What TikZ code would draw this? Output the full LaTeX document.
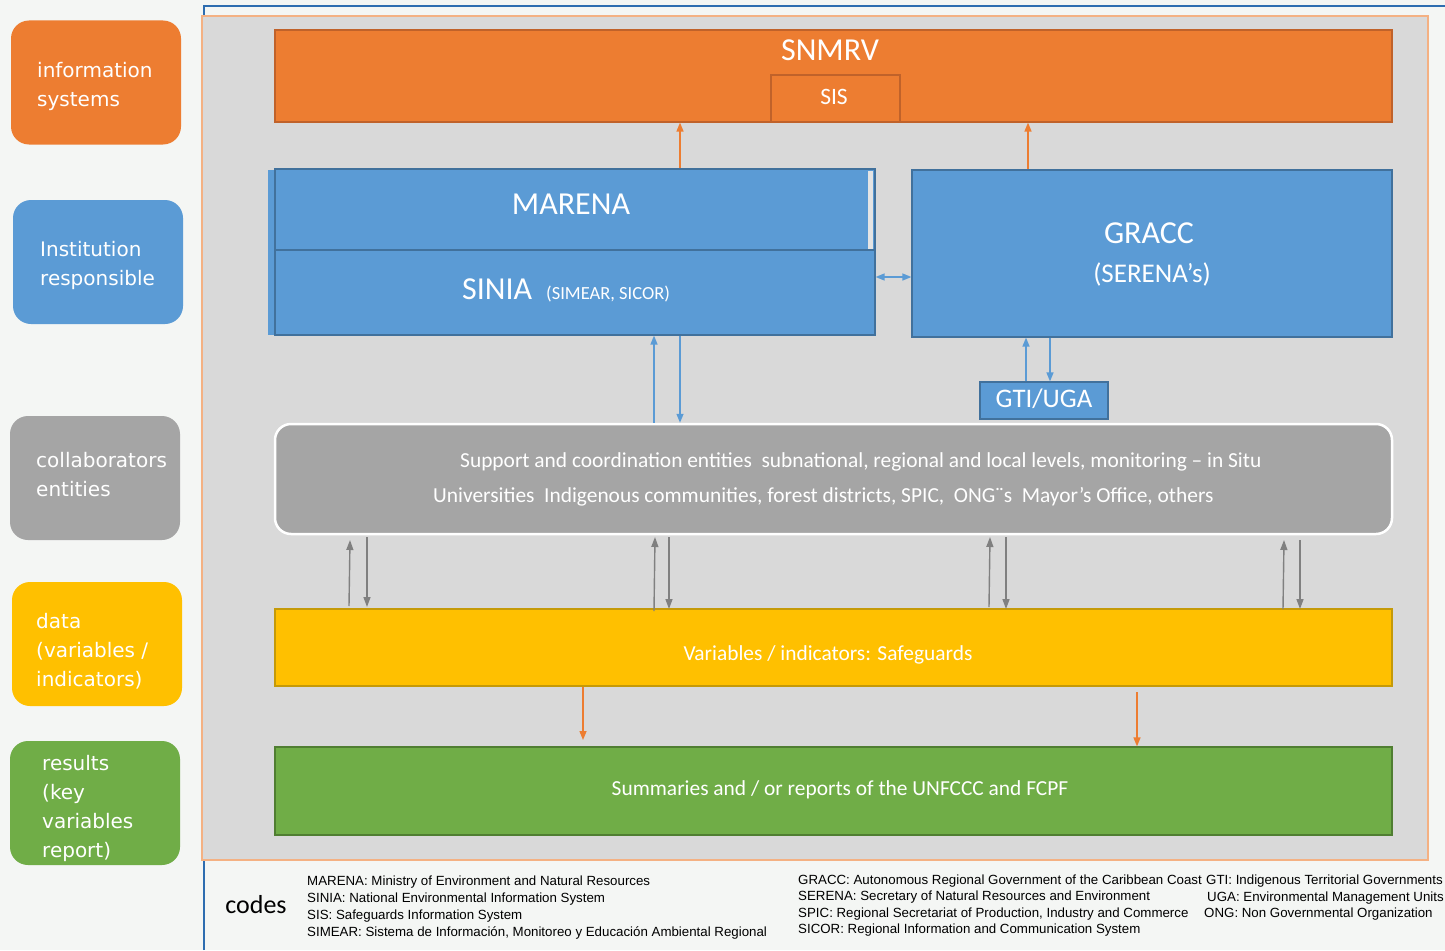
\documentclass[tikz,border=0pt]{standalone}
\usepackage{fontspec}
\setmainfont{Carlito}
\newfontfamily\legfont{DejaVu Sans}
\newfontfamily\codefont{Liberation Sans}
\usetikzlibrary{arrows.meta}
\definecolor{orF}{HTML}{ED7D31}
\definecolor{orD}{HTML}{C0622A}
\definecolor{orL}{HTML}{F4B183}
\definecolor{blF}{HTML}{5B9BD5}
\definecolor{blD}{HTML}{41719C}
\definecolor{frm}{HTML}{2E6DB0}
\definecolor{grF}{HTML}{A5A5A5}
\definecolor{grA}{HTML}{808080}
\definecolor{pan}{HTML}{D9D9D9}
\definecolor{yeF}{HTML}{FFC000}
\definecolor{yeD}{HTML}{C59A08}
\definecolor{gnF}{HTML}{70AD47}
\definecolor{gnD}{HTML}{507E32}
\definecolor{bgc}{HTML}{F4F6F4}
\definecolor{stripc}{HTML}{E4E4E4}
\begin{document}
\begin{tikzpicture}[x=1pt,y=-1pt,
  boxo/.style={draw=orD,fill=orF,line width=1.2pt,inner sep=0pt},
  boxb/.style={draw=blD,fill=blF,line width=1.2pt,inner sep=0pt},
  boxy/.style={draw=yeD,fill=yeF,line width=1.2pt,inner sep=0pt},
  boxg/.style={draw=gnD,fill=gnF,line width=1.2pt,inner sep=0pt},
  boxgr/.style={draw=white,fill=grF,line width=2.5pt,rounded corners=16pt,inner sep=0pt},
  leg/.style={rounded corners=18pt,inner sep=0pt,minimum width=170pt,minimum height=124pt},
  legtxt/.style={anchor=north west,text=white,font=\legfont\fontsize{20}{29}\selectfont,align=left,inner sep=0pt},
  wt/.style={text=white,inner sep=0pt},
  barr/.style={draw=blF,line width=1.4pt,-{Triangle[length=9pt,width=7pt]}},
  oarr/.style={draw=orF,line width=1.4pt,-{Triangle[length=9pt,width=7pt]}},
  garr/.style={draw=grA,line width=1.4pt,-{Triangle[length=10pt,width=7pt]}},
  codetxt/.style={anchor=west,inner sep=0pt,font=\codefont\fontsize{13.3}{15}\selectfont}
]
\useasboundingbox (0,0) rectangle (1445,950);
\fill[bgc] (0,0) rectangle (1445,950);
% outer frame
\draw[frm,line width=1.2pt] (204,950) -- (204,6) -- (1445,6);
% panel
\node[draw=orL,fill=pan,line width=1.2pt,inner sep=0pt,minimum width=1226pt,minimum height=844pt] (panel) at (815,438) {};
% legend
\node[leg,fill=orF] (l1) at (96,82.5) {};
\node[legtxt] (l1t) at (37,62) {information\\systems};
\node[leg,fill=blF] (l2) at (98,262) {};
\node[legtxt] (l2t) at (40,241) {Institution\\responsible};
\node[leg,fill=grF] (l3) at (95,478) {};
\node[legtxt] (l3t) at (36,452) {collaborators\\entities};
\node[leg,fill=yeF] (l4) at (97,644) {};
\node[legtxt] (l4t) at (36,613) {data\\(variables /\\indicators)};
\node[leg,fill=gnF] (l5) at (95,803) {};
\node[legtxt] (l5t) at (42,755) {results\\(key\\variables\\report)};
% SNMRV
\node[boxo,minimum width=1117pt,minimum height=92pt] (snmrv) at (833.5,76) {};
\node[wt,font=\fontsize{32}{36}\selectfont] (snmrvt) at (830,50) {SNMRV};
\node[boxo,minimum width=129pt,minimum height=47pt] (sis) at (835.5,98.5) {};
\node[wt,font=\fontsize{23.5}{26}\selectfont] (sist) at (834,96.5) {SIS};
% MARENA / SINIA
\fill[blF] (268,170) rectangle (276,335);
\node[boxb,minimum width=600pt,minimum height=166pt] (marena) at (575,252) {};
\draw[blD,line width=1.2pt] (275,250) -- (875,250);
\fill[stripc] (868,171) rectangle (873,249);
\node[wt,font=\fontsize{32}{36}\selectfont] (marenat) at (571,204) {MARENA};
\node[wt,font=\fontsize{32}{36}\selectfont,anchor=base west] (siniat) at (462,299) {SINIA};
\node[wt,font=\fontsize{18.5}{22}\selectfont,anchor=base west] (siniasub) at (546,299) {(SIMEAR, SICOR)};
% GRACC
\node[boxb,minimum width=480pt,minimum height=167pt] (gracc) at (1152,253.5) {};
\node[wt,font=\fontsize{32}{36}\selectfont] (gracct) at (1149,233) {GRACC};
\node[wt,font=\fontsize{27}{30}\selectfont] (serena) at (1152,274) {(SERENA’s)};
% GTI/UGA
\node[boxb,minimum width=128pt,minimum height=37pt] (gti) at (1044,400.5) {};
\node[wt,font=\fontsize{26.8}{30}\selectfont] (gtit) at (1044,399) {GTI/UGA};
% grey box
\node[boxgr,minimum width=1117pt,minimum height=110pt] (coll) at (833.5,479) {};
\node[wt,anchor=base west,font=\fontsize{21.4}{25}\selectfont] (c1) at (460,467) {Support and coordination entities\ \ subnational, regional and local levels, monitoring – in Situ};
\node[wt,anchor=base west,font=\fontsize{21.4}{25}\selectfont] (c2) at (433,502) {Universities\ \ Indigenous communities,\ forest districts, SPIC,\ \ ONG¨s\ \ Mayor's Office, others};
% yellow
\node[boxy,minimum width=1117pt,minimum height=77pt] (vars) at (833.5,647.5) {};
\node[wt,font=\fontsize{21.4}{25}\selectfont] (varst) at (828,655) {Variables / indicators: Safeguards};
% green
\node[boxg,minimum width=1117pt,minimum height=88pt] (summ) at (833.5,791) {};
\node[wt,font=\fontsize{21.4}{25}\selectfont] (summt) at (840,790) {Summaries and / or reports of the UNFCCC and FCPF};
% arrows
\draw[oarr] (marena.north -| 680,0) -- (snmrv.south -| 680,0);
\draw[oarr] (gracc.north -| 1028,0) -- (snmrv.south -| 1028,0);
\draw[barr,{Triangle[length=9pt,width=7pt]}-{Triangle[length=9pt,width=7pt]}] (marena.east |- 0,277) -- (gracc.west |- 0,277);
\draw[barr] (coll.north -| 654,0) -- (marena.south -| 654,0);
\draw[barr] (marena.south -| 680,0) -- (coll.north -| 680,0);
\draw[barr] (gti.north -| 1026,0) -- (gracc.south -| 1026,0);
\draw[barr] (gracc.south -| 1050,0) -- (gti.north -| 1050,0);
\coordinate (u1s) at (349,606); \coordinate (u1e) at (350,540);
\coordinate (d1s) at (367,537); \coordinate (d1e) at (367,607);
\coordinate (u2s) at (654,611); \coordinate (u2e) at (655,537);
\coordinate (d2s) at (669,537); \coordinate (d2e) at (669,609);
\coordinate (u3s) at (989,607); \coordinate (u3e) at (990,537);
\coordinate (d3s) at (1006,537); \coordinate (d3e) at (1006,609);
\coordinate (u4s) at (1283,609); \coordinate (u4e) at (1284,540);
\coordinate (d4s) at (1300,540); \coordinate (d4e) at (1300,609);
\foreach \i in {1,2,3,4}{
  \draw[garr] (u\i s) -- (u\i e);
  \draw[garr] (d\i s) -- (d\i e);
}
\draw[oarr] (vars.south -| 583,0) -- (583,740);
\draw[oarr] (1137,692) -- (summ.north -| 1137,0);
% codes
\node[font=\fontsize{26}{30}\selectfont,inner sep=0pt] (codes) at (256,905) {codes};
\node[codetxt] (k1) at (307,882) {MARENA: Ministry of Environment and Natural Resources};
\node[codetxt] (k2) at (307,899) {SINIA: National Environmental Information System};
\node[codetxt] (k3) at (307,916) {SIS: Safeguards Information System};
\node[codetxt] (k4) at (307,933) {SIMEAR: Sistema de Información, Monitoreo y Educación Ambiental Regional};
\node[codetxt] (k5) at (798,881) {GRACC: Autonomous Regional Government of the Caribbean Coast};
\node[codetxt] (k6) at (798,897) {SERENA: Secretary of Natural Resources and Environment};
\node[codetxt] (k7) at (798,914) {SPIC: Regional Secretariat of Production, Industry and Commerce};
\node[codetxt] (k8) at (798,930) {SICOR: Regional Information and Communication System};
\node[codetxt] (k9) at (1206,881) {GTI: Indigenous Territorial Governments};
\node[codetxt] (k10) at (1207,898) {UGA: Environmental Management Units};
\node[codetxt] (k11) at (1204,914) {ONG: Non Governmental Organization};
\end{tikzpicture}
\end{document}
